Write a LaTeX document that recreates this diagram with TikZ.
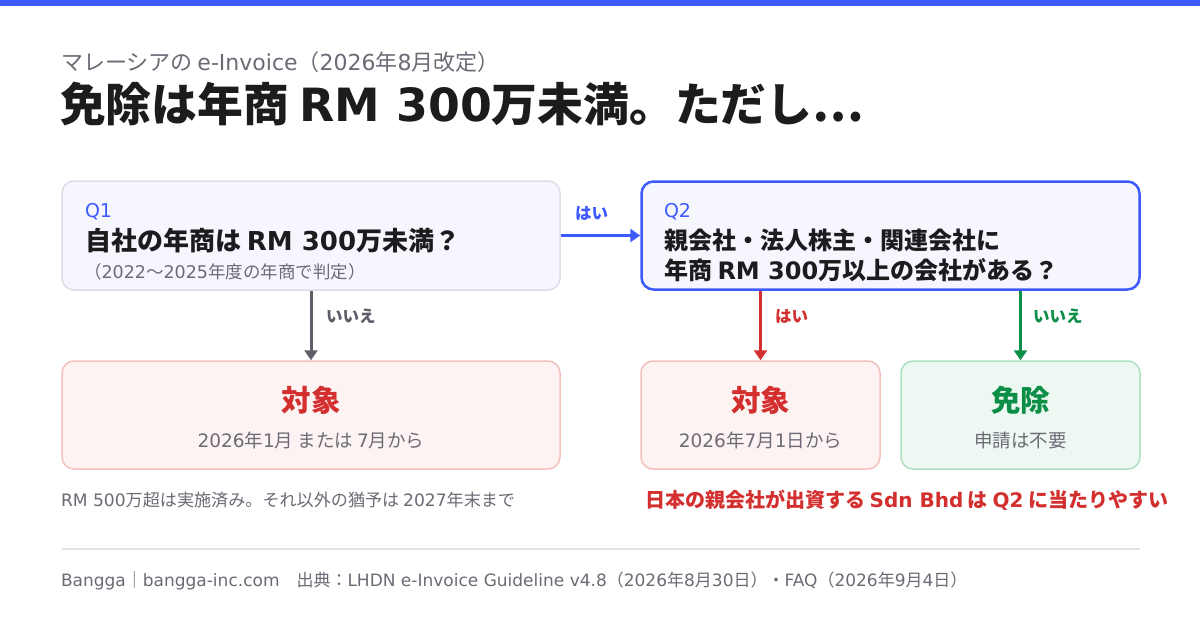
\documentclass[tikz,border=0pt]{standalone}
\usepackage{fontspec}
\setmainfont{Noto Sans CJK JP}
\newfontfamily\lf{DejaVu Sans}
\newcommand{\lat}[1]{{\lf #1}}
\usetikzlibrary{arrows.meta}
\definecolor{brand}{HTML}{3D5AFE}
\definecolor{ink}{HTML}{1C1C1E}
\definecolor{muted}{HTML}{6B6B76}
\definecolor{arrgray}{HTML}{5E5E69}
\definecolor{qfill}{HTML}{F5F6FE}
\definecolor{qline}{HTML}{DCDDE7}
\definecolor{red1}{HTML}{D32F2F}
\definecolor{rfill}{HTML}{FDF3F3}
\definecolor{rline}{HTML}{F4C0BB}
\definecolor{green1}{HTML}{0B8F47}
\definecolor{gfill}{HTML}{EEF8F2}
\definecolor{gline}{HTML}{ADDFC0}
\definecolor{rule}{HTML}{E2E2E8}
\tikzset{
  txt/.style={inner sep=0pt, outer sep=0pt, anchor=base west},
  ctxt/.style={inner sep=0pt, outer sep=0pt, anchor=base},
  box/.style={draw, rounded corners=12pt, inner sep=0pt, line width=1.5pt},
  conn/.style={line width=3pt, -{Triangle[length=10pt,width=13pt]}},
  lbl/.style={inner sep=0pt, outer sep=0pt, anchor=base west, font=\fontsize{16.5}{16.5}\selectfont\bfseries},
}
\begin{document}
\begin{tikzpicture}[x=1pt,y=-1pt]
\useasboundingbox (0,0) rectangle (1200,630);
\fill[white] (0,0) rectangle (1200,630);
\fill[brand] (0,0) rectangle (1200,6);
% headings
\node[txt, text=muted, font=\fontsize{22}{22}\selectfont] (sub) at (61,70.5) {マレーシアの \lat{e-Invoice}（\lat{2026}年\lat{8}月改定）};
\node[txt, text=ink, font=\fontsize{45.8}{45.8}\selectfont\bfseries] (title) at (60,121) {免除は年商 \lat{RM 300}万未満。ただし…};
% boxes
\node[box, draw=qline, fill=qfill, minimum width=498pt, minimum height=109pt] (q1) at (311,235.5) {};
\node[box, draw=brand, fill=qfill, line width=2.5pt, minimum width=498pt, minimum height=108pt] (q2) at (890.5,235.5) {};
\node[box, draw=rline, fill=rfill, minimum width=498pt, minimum height=108pt] (t1) at (311,415) {};
\node[box, draw=rline, fill=rfill, minimum width=239pt, minimum height=108pt] (t2) at (760.5,415) {};
\node[box, draw=gline, fill=gfill, minimum width=239pt, minimum height=108pt] (ex) at (1020.5,415) {};
% Q1 text
\node[txt, text=brand, font=\fontsize{19}{19}\selectfont] (q1a) at (85,217) {\lat{Q1}};
\node[txt, text=ink, font=\fontsize{26}{26}\selectfont\bfseries] (q1b) at (85,250) {自社の年商は \lat{RM 300}万未満？};
\node[txt, text=muted, font=\fontsize{17.5}{17.5}\selectfont] (q1c) at (84,278) {（\lat{2022}〜\lat{2025}年度の年商で判定）};
% Q2 text
\node[txt, text=brand, font=\fontsize{19}{19}\selectfont] (q2a) at (664,217) {\lat{Q2}};
\node[txt, text=ink, font=\fontsize{24}{24}\selectfont\bfseries] (q2b) at (664,249.5) {親会社・法人株主・関連会社に};
\node[txt, text=ink, font=\fontsize{24}{24}\selectfont\bfseries] (q2c) at (664,279.5) {年商 \lat{RM 300}万以上の会社がある？};
% result texts
\node[ctxt, text=red1, font=\fontsize{29.5}{29.5}\selectfont\bfseries] (t1a) at (311,411) {対象};
\node[ctxt, text=muted, font=\fontsize{18.5}{18.5}\selectfont] (t1b) at (311,447) {\lat{2026}年\lat{1}月 または \lat{7}月から};
\node[ctxt, text=red1, font=\fontsize{29.5}{29.5}\selectfont\bfseries] (t2a) at (760.5,411) {対象};
\node[ctxt, text=muted, font=\fontsize{18.5}{18.5}\selectfont] (t2b) at (760.5,447) {\lat{2026}年\lat{7}月\lat{1}日から};
\node[ctxt, text=green1, font=\fontsize{29.5}{29.5}\selectfont\bfseries] (exa) at (1020.5,411) {免除};
\node[ctxt, text=muted, font=\fontsize{18.5}{18.5}\selectfont] (exb) at (1020.5,447) {申請は不要};
% connectors
\draw[conn, brand] (q1.east) -- (q2.west);
\node[lbl, text=brand] (l1) at (575,219.3) {はい};
\draw[conn, arrgray] (q1.south) -- (t1.north);
\node[lbl, text=arrgray] (l2) at (326,322.3) {いいえ};
\draw[conn, red1] (t2.north |- q2.south) -- (t2.north);
\node[lbl, text=red1] (l3) at (775,322.3) {はい};
\draw[conn, green1] (ex.north |- q2.south) -- (ex.north);
\node[lbl, text=green1] (l4) at (1033,322.3) {いいえ};
% notes
\node[txt, text=muted, font=\fontsize{17.1}{17.1}\selectfont] (n1) at (61,506.5) {\lat{RM 500}万超は実施済み。それ以外の猶予は \lat{2027}年末まで};
\node[inner sep=0pt, outer sep=0pt, anchor=base east, text=red1, font=\fontsize{20}{20}\selectfont\bfseries] (n2) at (1168,507.6) {日本の親会社が出資する \lat{Sdn Bhd} は \lat{Q2} に当たりやすい};
% footer
\draw[rule, line width=2pt] (62,549) -- (1140,549);
\node[txt, text=muted, font=\fontsize{17}{17}\selectfont] (foot) at (61,586.5) {\lat{Bangga}｜\lat{bangga-inc.com}\quad 出典：\lat{LHDN e-Invoice Guideline v4.8}（\lat{2026}年\lat{8}月\lat{30}日）・\lat{FAQ}（\lat{2026}年\lat{9}月\lat{4}日）};
\end{tikzpicture}
\end{document}
